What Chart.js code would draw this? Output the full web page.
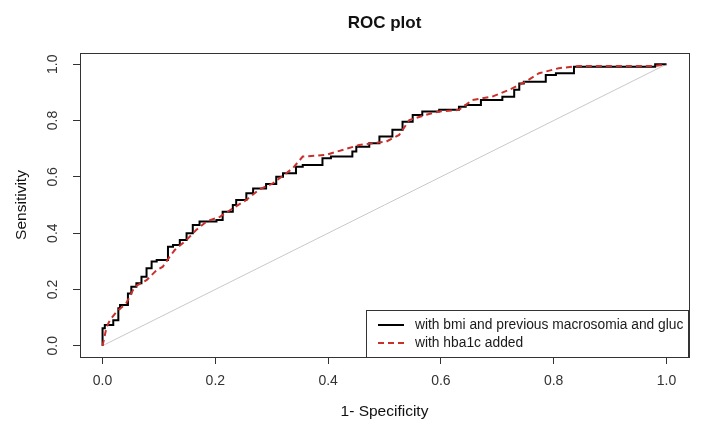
<!DOCTYPE html>
<html>
<head>
<meta charset="utf-8">
<title>ROC plot</title>
<script src="https://cdn.jsdelivr.net/npm/chart.js@4.4.1/dist/chart.umd.min.js"></script>
<style>
  html, body { margin: 0; padding: 0; background: #fff; }
  canvas { display: block; }
</style>
</head>
<body>
<canvas id="roc" width="713" height="435"></canvas>
<script>
/* ── DATA ── */
var TICKS = [0, 0.2, 0.4, 0.6, 0.8, 1.0];

// with bmi and previous macrosomia and gluc
var baseFpr = [0, 0.004, 0.019, 0.028, 0.031, 0.045, 0.051, 0.06, 0.069, 0.078, 0.087, 0.096, 0.116, 0.125, 0.137, 0.149,
  0.16, 0.172, 0.184, 0.202, 0.213, 0.231, 0.237, 0.255, 0.267, 0.29, 0.308, 0.32, 0.343, 0.355, 0.39, 0.405, 0.443,
  0.45, 0.473, 0.491, 0.514, 0.532, 0.55, 0.567, 0.597, 0.632, 0.644, 0.671, 0.68, 0.709, 0.73, 0.739, 0.747, 0.786,
  0.804, 0.836, 0.851, 0.98, 1.0];
var baseTpr = [0, 0.062, 0.074, 0.091, 0.133, 0.145, 0.186, 0.21, 0.222, 0.245, 0.275, 0.299, 0.305, 0.352, 0.358, 0.376,
  0.40, 0.429, 0.441, 0.441, 0.447, 0.476, 0.50, 0.518, 0.542, 0.559, 0.575, 0.60, 0.613, 0.636, 0.642, 0.666, 0.672,
  0.69, 0.707, 0.719, 0.743, 0.767, 0.796, 0.82, 0.832, 0.838, 0.849, 0.855, 0.873, 0.873, 0.885, 0.909, 0.932, 0.938,
  0.962, 0.968, 0.991, 0.991, 1.0];

// with hba1c added
var hbaFpr = [0, 0.007, 0.013, 0.025, 0.042, 0.051, 0.057, 0.078, 0.096, 0.107, 0.119, 0.128, 0.149, 0.166, 0.184, 0.208,
  0.231, 0.255, 0.278, 0.302, 0.337, 0.355, 0.396, 0.455, 0.503, 0.526, 0.544, 0.573, 0.597, 0.632, 0.656, 0.691,
  0.721, 0.75, 0.774, 0.809, 0.845, 0.98, 1.0];
var hbaTpr = [0, 0.065, 0.091, 0.121, 0.151, 0.186, 0.21, 0.233, 0.269, 0.281, 0.316, 0.34, 0.376, 0.411, 0.441, 0.458,
  0.488, 0.518, 0.555, 0.577, 0.63, 0.672, 0.678, 0.713, 0.725, 0.749, 0.802, 0.82, 0.832, 0.838, 0.873, 0.885,
  0.909, 0.938, 0.968, 0.986, 0.994, 0.994, 1.0];

// chance line
var diagX = [0, 1];
var diagY = [0, 1];

function toPoints(xs, ys) {
  var pts = [];
  for (var i = 0; i < xs.length; i++) pts.push({ x: xs[i], y: ys[i] });
  return pts;
}

var FONT = 'Liberation Sans, Arial, sans-serif';
var INK = '#333';

/* ── TITLE centred over the plot box, as R does ── */
var titleCentre = {
  id: 'titleCentre',
  afterLayout: function(chart) {
    var t = chart.titleBlock, a = chart.chartArea;
    if (!t) return;
    t.left = a.left;
    t.right = a.right;
    t.width = a.right - a.left;
  }
};

/* ── PLOT FRAME (R box) ── */
var framePlugin = {
  id: 'frame',
  afterDraw: function(chart) {
    var a = chart.chartArea, ctx = chart.ctx;
    ctx.save();
    ctx.strokeStyle = INK;
    ctx.lineWidth = 1;
    ctx.strokeRect(Math.round(a.left) + 0.5, Math.round(a.top) + 0.5,
      Math.round(a.right - a.left), Math.round(a.bottom - a.top));
    ctx.restore();
  }
};

/* ── LEGEND (inside, bottom right) ── */
var legendPlugin = {
  id: 'boxLegend',
  afterDraw: function(chart) {
    var a = chart.chartArea, ctx = chart.ctx;
    var w = 322, h = 47;
    var x0 = Math.round(a.right) - w - 1, y0 = Math.round(a.bottom) - h;
    ctx.save();
    ctx.fillStyle = '#fff';
    ctx.fillRect(x0, y0, w, h);
    ctx.strokeStyle = INK;
    ctx.lineWidth = 1;
    ctx.strokeRect(x0 + 0.5, y0 + 0.5, w, h);
    ctx.font = '13.8px ' + FONT;
    ctx.textBaseline = 'middle';
    ctx.fillStyle = '#1a1a1a';
    var row = 0;
    chart.data.datasets.forEach(function(ds) {
      if (!ds.label) return;
      var ly = y0 + 15 + row * 18;
      ctx.beginPath();
      ctx.strokeStyle = ds.borderColor;
      ctx.lineWidth = 2;
      ctx.setLineDash(ds.borderDash || []);
      ctx.moveTo(x0 + 12, ly);
      ctx.lineTo(x0 + 38, ly);
      ctx.stroke();
      ctx.setLineDash([]);
      ctx.fillText(ds.label, x0 + 49, ly);
      row++;
    });
    ctx.restore();
  }
};

/* ── CHART ── */
var ctx = document.getElementById('roc').getContext('2d');
new Chart(ctx, {
  type: 'line',
  data: {
    datasets: [
      {
        label: 'with bmi and previous macrosomia and gluc',
        data: toPoints(baseFpr, baseTpr),
        borderColor: '#000',
        borderWidth: 2,
        stepped: 'after',
        order: 1
      },
      {
        label: 'with hba1c added',
        data: toPoints(hbaFpr, hbaTpr),
        borderColor: '#c9302c',
        borderWidth: 2,
        borderDash: [6, 4],
        order: 0
      },
      {
        label: '',
        data: toPoints(diagX, diagY),
        borderColor: '#c8c8c8',
        borderWidth: 1,
        order: 2
      }
    ]
  },
  options: {
    responsive: false,
    animation: false,
    devicePixelRatio: 1,
    layout: { padding: { left: 0, right: 24, top: 0, bottom: 0 } },
    elements: { point: { radius: 0 }, line: { tension: 0, fill: false } },
    plugins: {
      legend: { display: false },
      tooltip: { enabled: false },
      title: {
        display: true,
        text: 'ROC plot',
        color: '#111',
        font: { family: FONT, size: 17, weight: 'bold' },
        padding: { top: 13, bottom: 19.6 }
      }
    },
    scales: {
      x: {
        type: 'linear',
        min: -0.04, max: 1.04,
        afterBuildTicks: function(s) { s.ticks = TICKS.map(function(v) { return { value: v }; }); },
        afterFit: function(s) { s.height = 78; },
        grid: { drawOnChartArea: false, drawTicks: true, tickLength: 7, color: INK },
        border: { display: false },
        ticks: {
          color: INK, padding: 9, maxRotation: 0,
          font: { family: FONT, size: 14 },
          callback: function(v) { return v.toFixed(1); }
        },
        title: {
          display: true, text: '1- Specificity', color: '#111',
          font: { family: FONT, size: 15.5 },
          padding: { top: 0, bottom: 14 }
        }
      },
      y: {
        type: 'linear',
        min: -0.04, max: 1.04,
        afterBuildTicks: function(s) { s.ticks = TICKS.map(function(v) { return { value: v }; }); },
        afterFit: function(s) { s.width = 80; },
        grid: { drawOnChartArea: false, drawTicks: true, tickLength: 7, color: INK },
        border: { display: false },
        ticks: {
          color: INK, padding: 10, minRotation: 90, maxRotation: 90, crossAlign: 'center',
          font: { family: FONT, size: 14 },
          callback: function(v) { return v.toFixed(1); }
        },
        title: {
          display: true, text: 'Sensitivity', color: '#111',
          font: { family: FONT, size: 15.5 },
          padding: { top: 12, bottom: 0 }
        }
      }
    }
  },
  plugins: [titleCentre, framePlugin, legendPlugin]
});
</script>
</body>
</html>
